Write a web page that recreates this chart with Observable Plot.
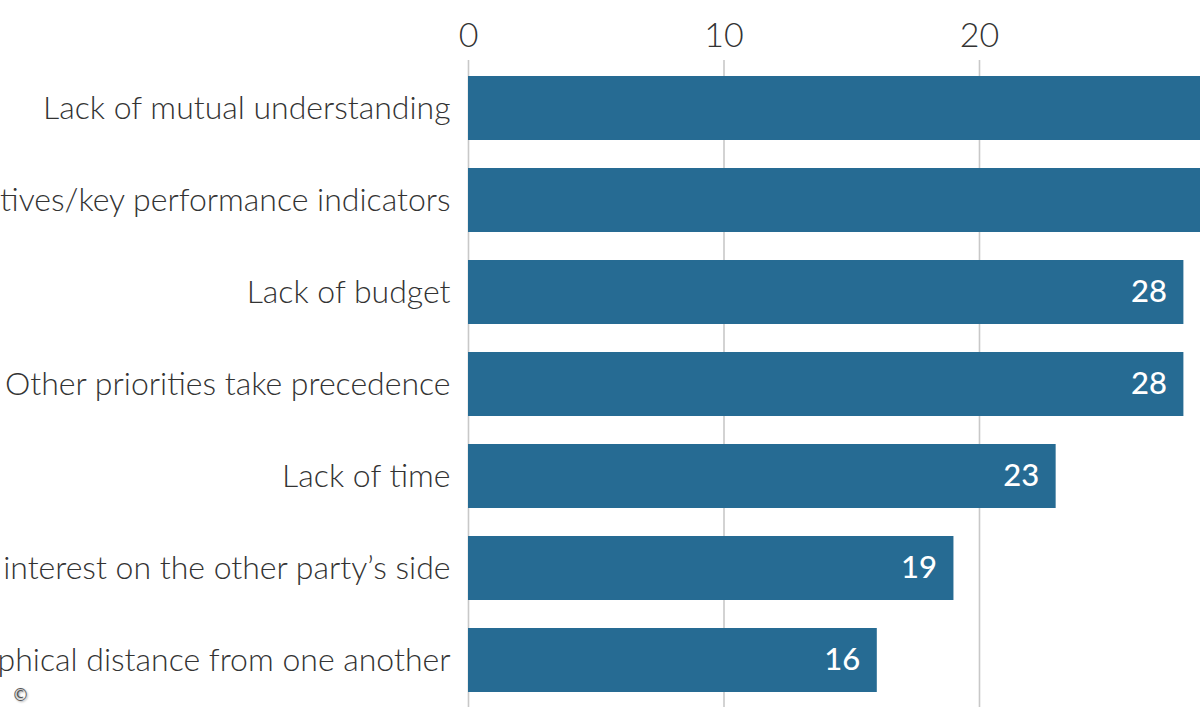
<!DOCTYPE html>
<html>
<head>
<meta charset="utf-8">
<script src="https://cdn.jsdelivr.net/npm/d3@7"></script>
<script src="https://cdn.jsdelivr.net/npm/@observablehq/plot@0.6"></script>
<style>
  html, body { margin: 0; padding: 0; background: #fff; width: 1200px; height: 720px; overflow: hidden; }
  #wrap { position: relative; width: 1200px; height: 720px; overflow: hidden; }
  #chart { position: absolute; left: -232px; top: 0; width: 1722px; height: 720px; }
  #chart svg { max-width: none !important; width: 1722px !important; height: 720px !important; }
  #copy { position: absolute; left: 12px; top: 685px; font: 17px "DejaVu Sans", sans-serif; color: #555; text-shadow: 1px 1px 2px #999; }
</style>
</head>
<body>
<div id="wrap">
  <div id="chart"></div>
  <div id="copy">©</div>
</div>
<script>
const categories = [
  "Lack of mutual understanding",
  "Lack of common objectives/key performance indicators",
  "Lack of budget",
  "Other priorities take precedence",
  "Lack of time",
  "Lack of interest on the other party’s side",
  "Geographical distance from one another"
];
const values = [35, 31, 28, 28, 23, 19, 16];
const tickValues = [0, 10, 20, 30];

const data = categories.map((c, i) => ({category: c, value: values[i]}));

const chart = Plot.plot({
  width: 1722,
  height: 720,
  marginLeft: 700,
  marginRight: 0,
  marginTop: 60,
  marginBottom: 13,
  style: {fontFamily: "Lato, 'Open Sans', sans-serif", background: "#fff", maxWidth: "none"},
  x: {domain: [0, 40], axis: null, label: null},
  y: {domain: categories, paddingInner: 0.308, paddingOuter: 0.16, axis: null, label: null},
  marks: [
    Plot.gridX(tickValues, {stroke: "#c8c8c8", strokeOpacity: 1, strokeWidth: 1.6}),
    Plot.axisX({anchor: "top", ticks: tickValues, label: null, tickSize: 0, tickPadding: 14, fontSize: 34, fill: "#333", fontWeight: 300, tickFormat: d3.format("d")}),
    Plot.axisY({anchor: "left", label: null, tickSize: 0, tickPadding: 18, fontSize: 32, fill: "#333", fontWeight: 300}),
    Plot.barX(data, {x: "value", y: "category", fill: "#266b93"}),
    Plot.text(data, {x: "value", y: "category", text: d => String(d.value), textAnchor: "end", dx: -17, fill: "#fff", fontSize: 31, fontWeight: 500})
  ]
});
document.getElementById("chart").appendChild(chart);
</script>
</body>
</html>
